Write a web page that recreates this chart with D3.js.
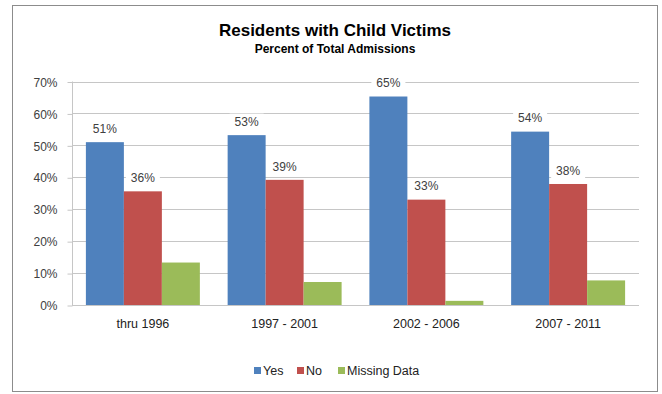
<!DOCTYPE html>
<html><head><meta charset="utf-8">
<script src="https://cdn.jsdelivr.net/npm/d3@7"></script>
<style>body{margin:0;background:#fff;} text{font-family:"Liberation Sans",Arial,sans-serif;}</style>
</head><body>
<svg id="c" width="662" height="394"></svg>
<script>
const categories = ["thru 1996","1997 - 2001","2002 - 2006","2007 - 2011"];
const seriesNames = ["Yes","No","Missing Data"];
const yesValues = [51.0, 53.2, 65.3, 54.3];
const noValues = [35.6, 39.2, 33.0, 37.9];
const missingValues = [13.3, 7.2, 1.3, 7.7];
const yesLabels = ["51%","53%","65%","54%"];
const noLabels = ["36%","39%","33%","38%"];
const yTicks = [0,10,20,30,40,50,60,70];
const colors = ["#4F81BD","#C0504D","#9BBB59"];

(function(){
const series = [yesValues, noValues, missingValues];
const labels = [yesLabels, noLabels, null];

const svg = d3.select("#c");
svg.append("rect").attr("x",12.5).attr("y",5.5).attr("width",645).attr("height",386)
  .attr("fill","#fff").attr("stroke","#8c8c8c").attr("stroke-width",1);

const pL=72, pR=639, pT=81.5, pB=305;
const y = d3.scaleLinear().domain([0,70]).range([pB, pT]);
const x0 = d3.scaleBand().domain(categories).range([pL,pR]).paddingInner(0.196).paddingOuter(0.098);
const x1 = d3.scaleBand().domain([0,1,2]).range([0,x0.bandwidth()]);

svg.append("g").selectAll("line").data(yTicks).join("line")
  .attr("x1",pL).attr("x2",pR).attr("y1",d=>Math.round(y(d))+0.5).attr("y2",d=>Math.round(y(d))+0.5)
  .attr("stroke","#c6c6c6").attr("stroke-width",1);

const yAxis = d3.axisLeft(y).tickValues(yTicks).tickFormat(d=>d+"%").tickSize(5).tickPadding(10);
const ga = svg.append("g").attr("transform",`translate(${pL+0.5},0.5)`).call(yAxis);
ga.select(".domain").attr("stroke","#c6c6c6").attr("d",`M0,${pT-0.5}V${pB}`);
ga.selectAll(".tick line").attr("stroke","#c6c6c6");
ga.selectAll(".tick text").attr("fill","#404040").style("font-size","12px").attr("dy","0.35em");

const groups = svg.append("g").selectAll("g").data(categories).join("g")
  .attr("transform",d=>`translate(${x0(d)},0)`);
groups.each(function(c,i){
  const g = d3.select(this);
  series.forEach((s,k)=>{
    g.append("rect").attr("x",x1(k)).attr("width",x1.bandwidth())
      .attr("y",y(s[i])).attr("height",pB-y(s[i])).attr("fill",colors[k]);
  });
});
groups.each(function(c,i){
  const g = d3.select(this);
  labels.forEach((l,k)=>{
    if(!l) return;
    const cx = x1(k)+x1.bandwidth()/2;
    const ty = y(series[k][i]) - 13.5;
    g.append("rect").attr("x",cx-17).attr("y",ty-8).attr("width",34).attr("height",16).attr("fill","#fff");
    g.append("text").attr("x",cx).attr("y",ty).attr("text-anchor","middle").attr("dy","0.35em")
      .attr("fill","#404040").style("font-size","12px").text(l[i]);
  });
});

svg.append("line").attr("x1",pL).attr("x2",pR).attr("y1",pB+0.5).attr("y2",pB+0.5).attr("stroke","#c6c6c6");
const xAxis = d3.axisBottom(x0).tickSize(0).tickPadding(14);
const gx = svg.append("g").attr("transform",`translate(0,${pB})`).call(xAxis);
gx.select(".domain").remove();
gx.selectAll(".tick text").attr("fill","#222").style("font-size","12.5px");

svg.append("text").attr("x",335).attr("y",36).attr("text-anchor","middle")
  .style("font-size","17px").style("font-weight","bold").attr("fill","#000").text("Residents with Child Victims");
svg.append("text").attr("x",335).attr("y",53).attr("text-anchor","middle")
  .style("font-size","12px").style("font-weight","bold").attr("fill","#000").text("Percent of Total Admissions");

const legX=[254,297,338];
const lg = svg.append("g");
seriesNames.forEach((n,k)=>{
  lg.append("rect").attr("x",legX[k]).attr("y",367).attr("width",7).attr("height",7).attr("fill",colors[k]);
  lg.append("text").attr("x",legX[k]+9).attr("y",371).attr("dy","0.35em").style("font-size","12.5px").attr("fill","#222").text(n);
});
})();
</script>
</body></html>
